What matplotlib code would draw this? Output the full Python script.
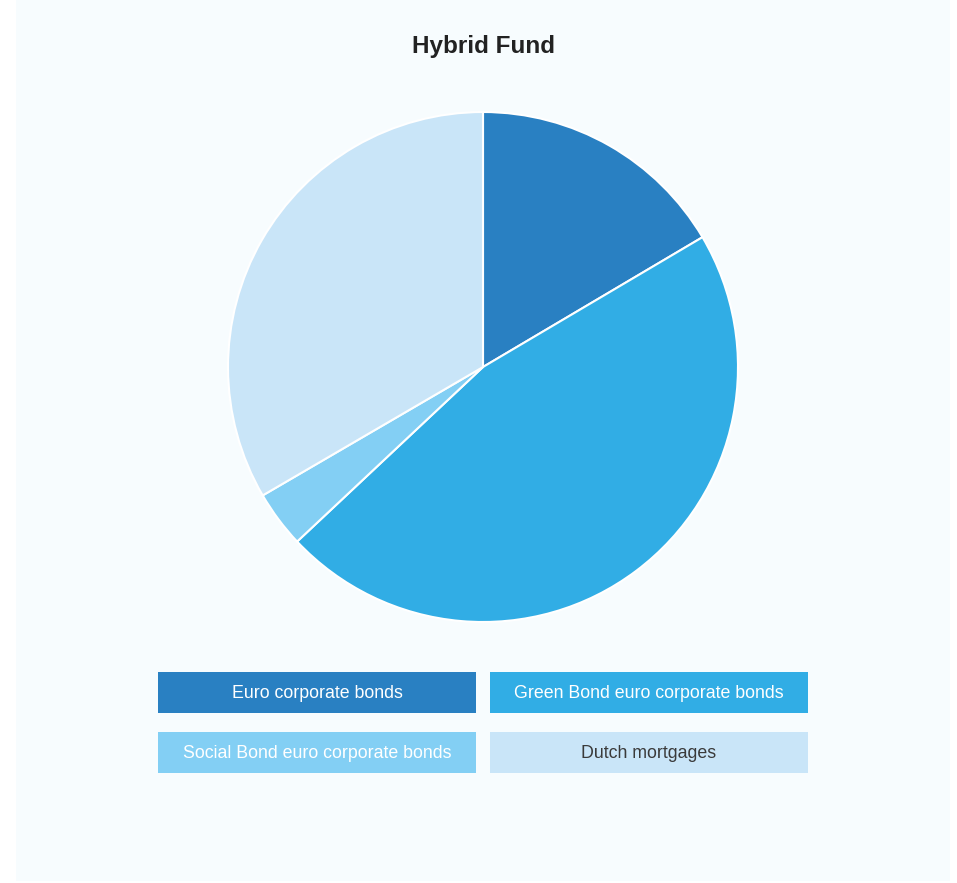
import matplotlib.pyplot as plt
from matplotlib.patches import Rectangle

labels = ["Euro corporate bonds", "Green Bond euro corporate bonds",
          "Social Bond euro corporate bonds", "Dutch mortgages"]
shares = [16.5, 46.5, 3.6, 33.4]
colors = ["#2980c2", "#31ade5", "#83cff4", "#c9e5f8"]
text_colors = ["white", "white", "white", "#3a3a3a"]

plt.rcParams['font.family'] = ['Liberation Sans', 'DejaVu Sans']

W, H = 957, 883
fig = plt.figure(figsize=(W / 100, H / 100), dpi=100)
fig.patch.set_facecolor("white")

# background panel, pixel coordinates
bg = fig.add_axes([0, 0, 1, 1])
bg.set_xlim(0, W)
bg.set_ylim(H, 0)
bg.axis("off")
bg.add_patch(Rectangle((16, 0), 934, 881, facecolor="#f7fcfe", edgecolor="none"))

bg.text(483, 47, "Hybrid Fund", ha="center", va="center", fontsize=17.5,
        fontweight="bold", color="#222222")

# legend boxes
box_x = [158, 490, 158, 490]
box_y = [672, 672, 732, 732]
for i, lab in enumerate(labels):
    bg.add_patch(Rectangle((box_x[i], box_y[i]), 318, 41, facecolor=colors[i], edgecolor="none"))
    bg.text(box_x[i] + 159, box_y[i] + 21, lab, ha="center", va="center",
            fontsize=12.8, color=text_colors[i])

# pie
cx, cy, r = 483, 367, 255
ax = fig.add_axes([(cx - r) / W, (H - cy - r) / H, 2 * r / W, 2 * r / H])
ax.pie(shares, colors=colors, startangle=90, counterclock=False,
       wedgeprops=dict(edgecolor="white", linewidth=1.5))
ax.set_xlim(-1, 1)
ax.set_ylim(-1, 1)
ax.axis("off")

fig.savefig("out.png", dpi=100)
